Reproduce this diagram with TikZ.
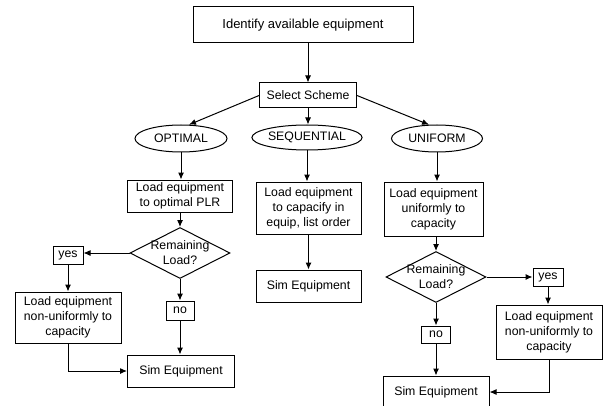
\documentclass[tikz,border=0pt]{standalone}
\usepackage{fontspec}
\setmainfont{Liberation Sans}
\usetikzlibrary{shapes.geometric,arrows.meta}
\begin{document}
\begin{tikzpicture}[>={Latex[length=7pt,width=6pt]},x=1pt,y=-1pt,line width=1pt,
  font=\fontsize{12.3}{15}\selectfont,
  box/.style={draw,align=center,inner sep=0pt},
  oval/.style={draw,ellipse,inner sep=0pt,minimum height=27pt},
  ask/.style={draw,diamond,aspect=2,inner sep=-8pt,align=center,minimum width=100pt,minimum height=51pt},
  tag/.style={draw,inner sep=0pt,minimum height=18pt,minimum width=30pt}]
\useasboundingbox (0,0) rectangle (604,406);
\node[box,minimum width=220pt,minimum height=36pt,font=\fontsize{13}{15}\selectfont] (ident) at (303,25) {Identify available equipment};
\node[box,minimum width=97pt,minimum height=25pt] (sel) at (308,95.5) {Select Scheme};
\node[oval,minimum width=92pt] (opt) at (181,138.5) {OPTIMAL};
\node[oval,minimum width=110pt,minimum height=25pt] (seq) at (307,137.5) {SEQUENTIAL};
\node[oval,minimum width=91pt] (uni) at (437,138.5) {UNIFORM};
% optimal
\node[box,minimum width=105pt,minimum height=32pt] (optload) at (180,196) {Load equipment\\to optimal PLR};
\node[ask] (optdia) at (180,253) {Remaining\\Load?};
\node[tag] (optyes) at (68,255) {yes};
\node[box,minimum width=106pt,minimum height=51pt] (optnon) at (68,317.5) {Load equipment\\non-uniformly to\\capacity};
\node[tag,minimum width=28pt,minimum height=19pt] (optno) at (180,310.5) {no};
\node[box,minimum width=107pt,minimum height=32pt] (optsim) at (181,371) {Sim Equipment};
% sequential
\node[box,minimum width=105pt,minimum height=52pt] (seqload) at (308.5,208) {Load equipment\\to capacify in\\equip, list order};
\node[box,minimum width=105pt,minimum height=32pt] (seqsim) at (308.5,286) {Sim Equipment};
% uniform
\node[box,minimum width=99pt,minimum height=54pt] (uniload) at (433.5,209) {Load equipment\\uniformly to\\capacity};
\node[ask] (unidia) at (436,277) {Remaining\\Load?};
\node[tag] (uniyes) at (548,277) {yes};
\node[box,minimum width=106pt,minimum height=54pt] (uninon) at (549,332) {Load equipment\\non-uniformly to\\capacity};
\node[tag,minimum width=29pt,minimum height=17pt] (unino) at (436,334.5) {no};
\node[box,minimum width=106pt,minimum height=32pt] (unisim) at (436,392) {Sim Equipment};

\draw[->] (ident.south -| sel.north) -- (sel.north);
\draw[->] (sel.west) -- (opt.60);
\draw[->] (sel.south) -- (seq.north -| sel.south);
\draw[->] (sel.east) -- (uni.120);
\draw[->] (opt.south) -- (optload.north -| opt.south);
\draw[->] (optload.south) -- (optdia.north);
\draw[->] (optdia.west) -- (optyes.east |- optdia.west);
\draw[->] (optyes.south) -- (optnon.north);
\draw[->] (optdia.south) -- (optno.north);
\draw[->] (optno.south) -- (optno.south |- optsim.north);
\draw[->] (optnon.south) |- (optsim.west);
\draw[->] (seq.south) -- (seq.south |- seqload.north);
\draw[->] (seqload.south) -- (seqsim.north);
\draw[->] (uni.south) -- (uni.south |- uniload.north);
\draw[->] (unidia.north |- uniload.south) -- (unidia.north);
\draw[->] (unidia.east) -- (uniyes.west);
\draw[->] (uniyes.south) -- (uniyes.south |- uninon.north);
\draw[->] (unidia.south) -- (unino.north);
\draw[->] (unino.south) -- (unisim.north);
\draw[->] (uninon.south) |- (unisim.east);
\end{tikzpicture}
\end{document}
